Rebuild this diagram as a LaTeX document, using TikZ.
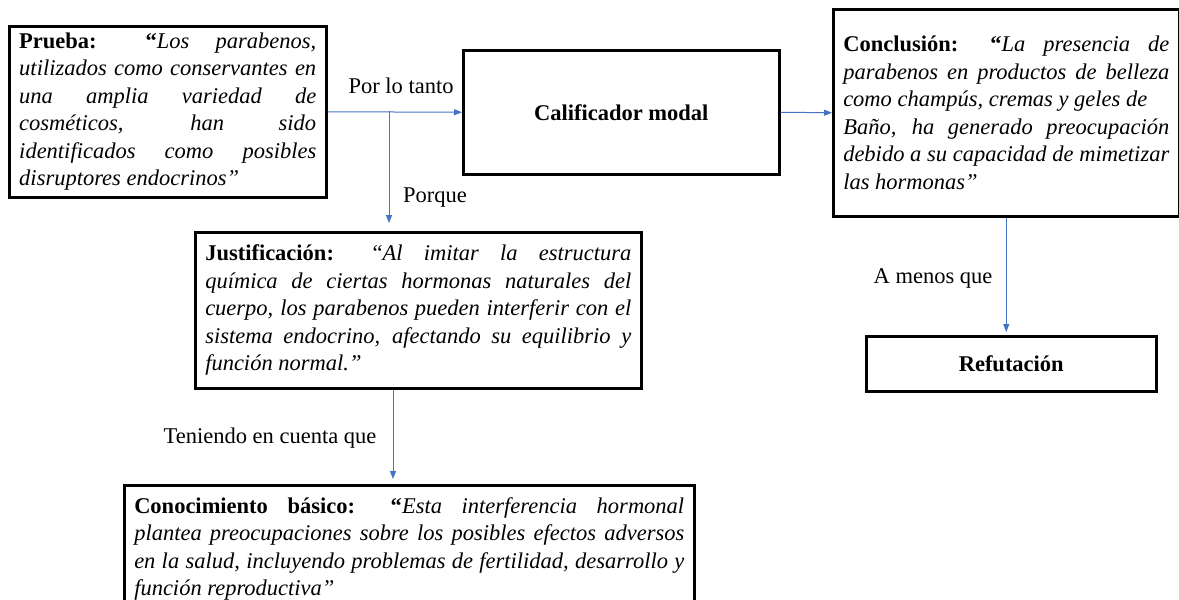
\documentclass[tikz,border=0pt]{standalone}
\usepackage{fontspec}
\setmainfont{Liberation Serif}
\usetikzlibrary{arrows.meta}
\definecolor{linkblue}{RGB}{68,114,196}
\tolerance=10000
\hbadness=10000
\hyphenpenalty=10000
\exhyphenpenalty=10000

\tikzset{
    argbox/.style={draw, line width=2.5pt, anchor=north west, inner xsep=10pt, align=justify},
    link/.style={draw=linkblue, line width=1pt, -{Triangle[length=8pt, width=6pt]}}
}

\begin{document}
\begin{tikzpicture}[x=1pt, y=-1pt, font=\fontsize{22.5}{27.5}\selectfont]
            \useasboundingbox (0,0) rectangle (1179,600);
            \clip (0,0) rectangle (1179,600);

            \begin{scope}[
                    every node/.style={argbox}
                ]
                \node[text width=297pt, minimum height=171pt] (prueba) at (8,25)
                    {{\bfseries Prueba: “}\textit{Los parabenos,\linebreak utilizados como conservantes en\linebreak una amplia variedad de\linebreak cosméticos, han sido\linebreak identificados como posibles\linebreak disruptores endocrinos”}};
                \node[text width=426pt, minimum height=156pt] (justif) at (194,231)
                    {{\bfseries Justificación:} “\textit{Al imitar la estructura\linebreak química de ciertas hormonas naturales del\linebreak cuerpo, los parabenos pueden interferir con el\linebreak sistema endocrino, afectando su equilibrio y\linebreak función normal.”}};
                \node[text width=550pt, minimum height=127pt] (conoc) at (123,484)
                    {{\bfseries Conocimiento básico: “}\textit{Esta interferencia hormonal\linebreak plantea preocupaciones sobre los posibles efectos adversos\linebreak en la salud, incluyendo problemas de fertilidad, desarrollo y\linebreak función reproductiva”}};
                \node[text width=326pt, minimum height=207pt] (concl) at (832,8)
                    {{\bfseries Conclusión: “}\textit{La presencia de\linebreak parabenos en productos de belleza\linebreak como champús, cremas y geles de\newline Baño, ha generado preocupación\linebreak debido a su capacidad de mimetizar\linebreak las hormonas”}};
            \end{scope}
            \begin{scope}[
                    every node/.style={argbox, align=center, inner sep=0pt, font=\fontsize{22.5}{27.5}\selectfont\bfseries}
                ]
                \node[minimum width=316pt, minimum height=124pt] (calif) at (462,49) {Calificador modal};
                \node[minimum width=290pt, minimum height=55pt] (refut) at (865,335) {Refutación};
            \end{scope}

            \node (porlo) at (401,86) {Por lo tanto};
            \node (porque) at (435,198) {Porque};
            \node (teniendo) at (270,438) {Teniendo en cuenta que};
            \node (amenos) at (933,278) {A menos que};

            \coordinate (split) at (389,111);
            \coordinate (tdown) at (393,400);

            \draw[link] (prueba.east) -- (calif.west);
            \draw[link] (calif.east) -- (concl.west);
            \draw[draw=linkblue, line width=1pt] (split) -- (prueba.east -| split);
            \draw[link, shorten >=8pt] (split) -- (split |- justif.north);
            \draw[link, shorten >=5pt] (justif.south -| tdown) -- (conoc.north -| tdown);
            \draw[link, shorten >=3pt] (concl.south) -- (concl.south |- refut.north);

        \end{tikzpicture}
\end{document}
